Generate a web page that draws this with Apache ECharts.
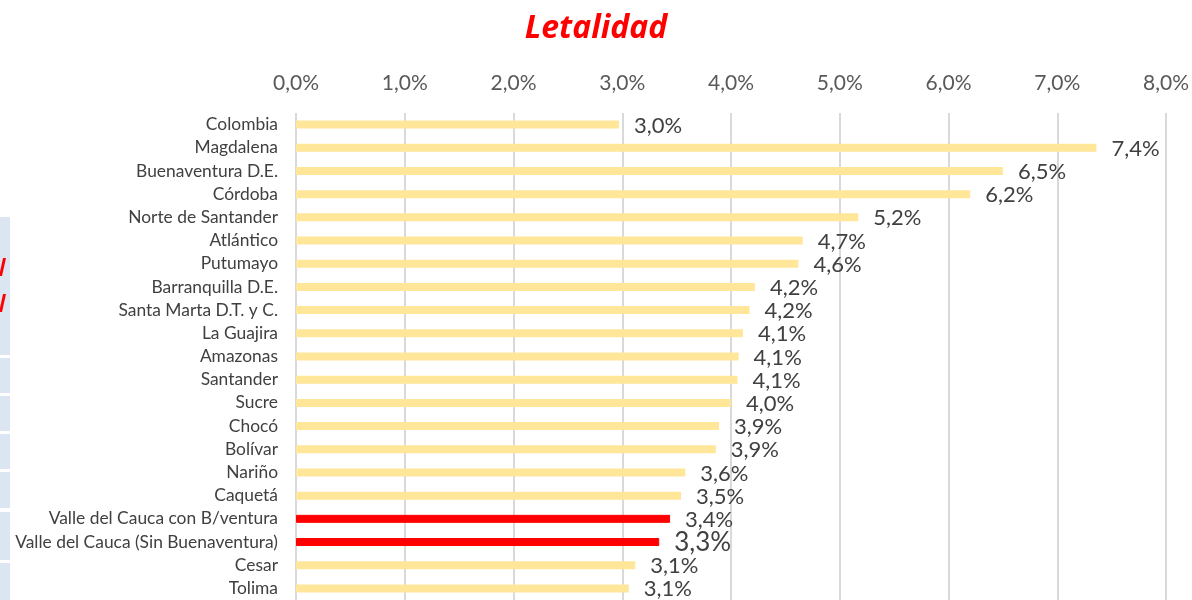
<!DOCTYPE html>
<html>
<head>
<meta charset="utf-8">
<title>Letalidad</title>
<script src="https://cdn.jsdelivr.net/npm/echarts@6/dist/echarts.min.js"></script>
<style>
	html, body { margin: 0; padding: 0; background: #fff; }
	#main { width: 1192px; height: 600px; }
</style>
</head>
<body>
<div id="main"></div>
<script type="text/javascript">
	// datos
	var categorias = [
		'Colombia', 'Magdalena', 'Buenaventura D.E.', 'Córdoba', 'Norte de Santander',
		'Atlántico', 'Putumayo', 'Barranquilla D.E.', 'Santa Marta D.T. y C.', 'La Guajira',
		'Amazonas', 'Santander', 'Sucre', 'Chocó', 'Bolívar', 'Nariño', 'Caquetá',
		'Valle del Cauca con B/ventura', 'Valle del Cauca (Sin Buenaventura)', 'Cesar', 'Tolima'
	];
	var letalidad = [2.97, 7.36, 6.50, 6.20, 5.17, 4.66, 4.62, 4.22, 4.17, 4.11,
		4.07, 4.06, 4.00, 3.89, 3.86, 3.58, 3.54, 3.44, 3.34, 3.12, 3.06];
	var destacados = ['Valle del Cauca con B/ventura', 'Valle del Cauca (Sin Buenaventura)'];
	var ejeTicks = [0, 1, 2, 3, 4, 5, 6, 7, 8];

	var fuente = 'Lato, "Open Sans", sans-serif';

	function pct(v) {
		return v.toFixed(1).replace('.', ',') + '%';
	}

	var datos = letalidad.map(function (v, i) {
		var rojo = destacados.indexOf(categorias[i]) >= 0;
		var item = { value: v };
		if (rojo) {
			item.itemStyle = { color: '#FF0000', borderColor: '#FF0000', borderWidth: 1 };
		}
		if (categorias[i] === 'Valle del Cauca (Sin Buenaventura)') {
			item.label = { fontSize: 26 };
		}
		return item;
	});

	// franja azul recortada del borde izquierdo (otra diapositiva)
	var franjas = [[217, 355], [358, 393], [396, 431], [434, 469], [472, 508], [512, 560], [563, 600]];
	var graficos = franjas.map(function (f) {
		return { type: 'rect', shape: { x: 0, y: f[0], width: 10, height: f[1] - f[0] }, style: { fill: '#DCE6F2' }, silent: true };
	});
	graficos.push({ type: 'polygon', shape: { points: [[0, 272], [3, 258], [6, 258], [2, 276], [0, 276]] }, style: { fill: '#FF0000' } });
	graficos.push({ type: 'polygon', shape: { points: [[0, 308], [3, 294], [6, 294], [2, 312], [0, 312]] }, style: { fill: '#FF0000' } });

	var chart = echarts.init(document.getElementById('main'));
	chart.setOption({
		animation: false,
		backgroundColor: '#FFFFFF',
		title: {
			text: 'Letalidad',
			left: 'center',
			top: 8,
			textStyle: {
				color: '#FF0000',
				fontSize: 32,
				fontWeight: 'bold',
				fontStyle: 'italic',
				fontFamily: '"Open Sans", Lato, sans-serif'
			}
		},
		graphic: graficos,
		grid: {
			left: 296,
			right: 26,
			top: 113,
			bottom: -2,
			containLabel: false
		},
		xAxis: {
			type: 'value',
			position: 'top',
			min: ejeTicks[0],
			max: ejeTicks[ejeTicks.length - 1],
			interval: 1,
			axisLine: { show: false },
			axisTick: { show: false },
			axisLabel: {
				margin: 19,
				color: '#595959',
				fontSize: 21,
				fontFamily: fuente,
				formatter: function (v) { return pct(v); }
			},
			splitLine: { show: true, lineStyle: { color: '#D9D9D9', width: 2 } }
		},
		yAxis: {
			type: 'category',
			inverse: true,
			data: categorias,
			axisLine: { show: false },
			axisTick: { show: false },
			axisLabel: {
				margin: 18,
				color: '#404040',
				fontSize: 17.4,
				fontFamily: fuente
			}
		},
		series: [{
			type: 'bar',
			data: datos,
			barWidth: 8,
			itemStyle: { color: '#FFE699' },
			label: {
				show: true,
				position: 'right',
				distance: 15,
				offset: [0, 1],
				color: '#404040',
				fontSize: 22,
				fontFamily: fuente,
				formatter: function (p) { return pct(p.value); }
			}
		}]
	});
</script>
</body>
</html>
